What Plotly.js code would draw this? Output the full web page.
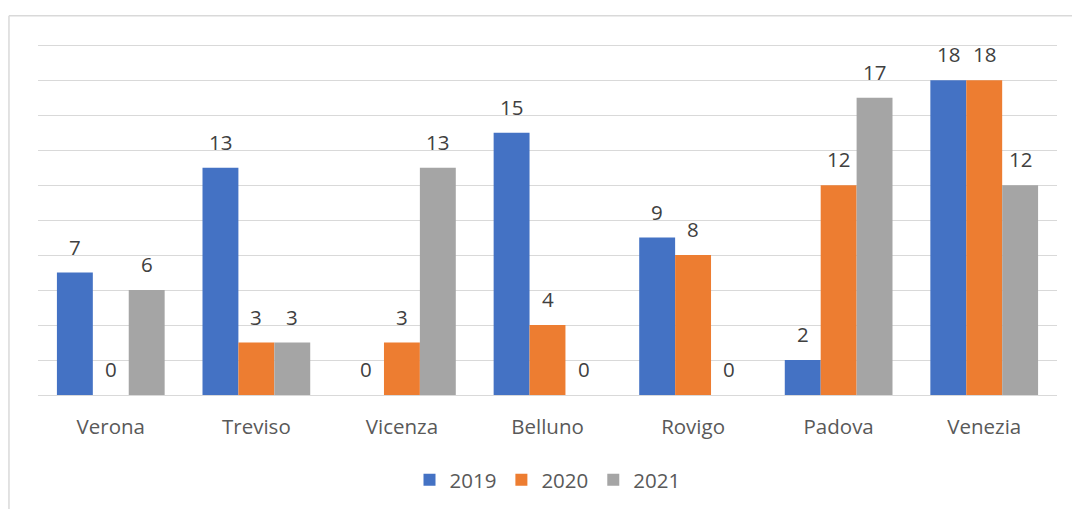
<!DOCTYPE html>
<html>
<head>
<meta charset="utf-8">
<script src="https://cdn.plot.ly/plotly-3.0.1.min.js"></script>
<style>
html,body{margin:0;padding:0;background:#fff;}
#chart{width:1072px;height:509px;}
</style>
</head>
<body>
<div id="chart"></div>
<script>
const categories = ["Verona","Treviso","Vicenza","Belluno","Rovigo","Padova","Venezia"];
const seriesNames = ["2019","2020","2021"];
const values2019 = [7,13,0,15,9,2,18];
const values2020 = [0,3,3,4,8,12,18];
const values2021 = [6,3,13,0,0,17,12];
const colors = ["#4472C4","#ED7D31","#A5A5A5"];

const allValues = [values2019, values2020, values2021];
const FONT = "'Open Sans', 'Noto Sans', sans-serif";

const traces = allValues.map((vals, i) => ({
  type: "bar",
  name: seriesNames[i],
  x: categories,
  y: vals,
  marker: {color: colors[i], line: {width: 0}},
  hoverinfo: "none"
}));

const barPx = 36;
const annotations = [];
allValues.forEach((vals, i) => {
  vals.forEach((v, j) => {
    annotations.push({
      x: categories[j], y: v, xref: "x", yref: "y",
      text: String(v), showarrow: false,
      xshift: (i - 1) * barPx, yshift: 26,
      font: {family: FONT, size: 20.5, color: "#404040"}
    });
  });
});

const layout = {
  width: 1072, height: 509,
  margin: {l: 38, r: 15, t: 40, b: 114, autoexpand: false},
  paper_bgcolor: "#fff", plot_bgcolor: "#fff",
  barmode: "group", bargap: 0.26, bargroupgap: 0,
  showlegend: true,
  legend: {orientation: "h", x: 0.5, xanchor: "center", yref: "container", y: 0.057, yanchor: "middle",
    font: {family: FONT, size: 20.5, color: "#595959"}, itemwidth: 30, traceorder: "normal"},
  xaxis: {type: "category", showgrid: false, showline: false, ticks: "", ticklabelstandoff: 17,
    tickfont: {family: FONT, size: 20.5, color: "#595959"}, fixedrange: true, automargin: false},
  yaxis: {range: [0, 20.3], dtick: 2, showgrid: true, gridcolor: "#d9d9d9", gridwidth: 1,
    zeroline: true, zerolinecolor: "#d9d9d9", zerolinewidth: 1,
    showticklabels: false, ticks: "", fixedrange: true, automargin: false},
  annotations: annotations,
  shapes: [
    {type: "line", xref: "paper", yref: "paper", x0: -0.0285, x1: -0.0285, y0: 1.068, y1: -0.35,
      line: {color: "#d9d9d9", width: 1.5}},
    {type: "line", xref: "paper", yref: "paper", x0: -0.0285, x1: 1.02, y0: 1.068, y1: 1.068,
      line: {color: "#d9d9d9", width: 1.5}}
  ]
};

Plotly.newPlot("chart", traces, layout, {displayModeBar: false, staticPlot: true});
</script>
</body>
</html>
